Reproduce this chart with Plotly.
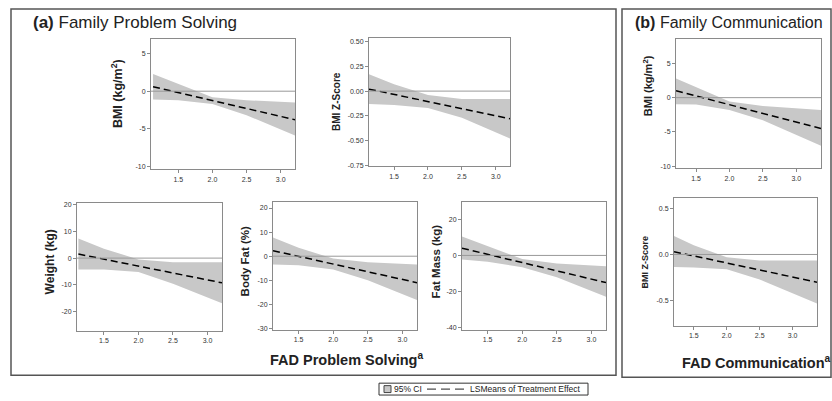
import plotly.graph_objects as go

# ---------------- data ----------------
x_ps = [1.13, 1.5, 2.0, 2.5, 3.21]      # FAD Problem Solving
x_fc = [1.2, 1.5, 2.0, 2.5, 3.37]       # FAD Communication

bmi_a_mean = [0.6, -0.18, -1.24, -2.30, -3.8]
bmi_a_up = [2.3, 1.0, -0.8, -1.2, -1.5]
bmi_a_lo = [-1.1, -1.2, -1.7, -3.2, -5.9]

z_a_mean = [0.02, -0.033, -0.105, -0.177, -0.28]
z_a_up = [0.17, 0.07, -0.04, -0.08, -0.08]
z_a_lo = [-0.13, -0.14, -0.17, -0.27, -0.48]

bmi_b_mean = [1.0, 0.24, -1.03, -2.29, -4.5]
bmi_b_up = [2.8, 1.5, -0.55, -1.2, -1.8]
bmi_b_lo = [-0.95, -1.0, -1.8, -3.3, -7.0]

wt_mean = [1.5, -0.4, -2.97, -5.54, -9.2]
wt_up = [7.3, 3.5, -0.5, -1.5, -1.5]
wt_lo = [-4.2, -4.2, -5.2, -9.5, -16.8]

bf_mean = [2.3, -0.06, -3.26, -6.45, -11.0]
bf_up = [7.8, 3.5, -1.0, -2.5, -3.4]
bf_lo = [-3.4, -3.8, -5.5, -10.0, -18.2]

fm_mean = [4.0, 0.62, -3.94, -8.5, -15.0]
fm_up = [10.5, 5.0, -2.0, -4.5, -6.0]
fm_lo = [-2.3, -3.5, -6.5, -12.0, -22.8]

z_b_mean = [0.03, -0.016, -0.092, -0.168, -0.30]
z_b_up = [0.2, 0.1, -0.03, -0.065, -0.065]
z_b_lo = [-0.135, -0.14, -0.16, -0.27, -0.53]

x_tickvals = [1.5, 2.0, 2.5, 3.0]
x_ticktext = ["1.5", "2.0", "2.5", "3.0"]

bmi_tickvals = [5, 0, -5, -10]
bmi_ticktext = ["5", "0", "-5", "-10"]
z_a_tickvals = [0.5, 0.25, 0.0, -0.25, -0.5, -0.75]
z_a_ticktext = ["0.50", "0.25", "0.00", "-0.25", "-0.50", "-0.75"]
wt_tickvals = [20, 10, 0, -10, -20]
wt_ticktext = ["20", "10", "0", "-10", "-20"]
bf_tickvals = [20, 10, 0, -10, -20, -30]
bf_ticktext = ["20", "10", "0", "-10", "-20", "-30"]
fm_tickvals = [20, 0, -20, -40]
fm_ticktext = ["20", "0", "-20", "-40"]
z_b_tickvals = [0.5, 0.0, -0.5]
z_b_ticktext = ["0.5", "0.0", "-0.5"]

legend_labels = ["95% CI", "LSMeans of Treatment Effect"]

# ---------------- layout geometry (pixels) ----------------
W, H = 832, 401
FONT = "Liberation Sans, Arial, sans-serif"

panels = [
    dict(x=x_ps, m=bmi_a_mean, u=bmi_a_up, l=bmi_a_lo, tv=bmi_tickvals, tt=bmi_ticktext,
         xr=[1.1, 3.21], yr=[-10.4, 7.0], box=(151, 295, 37, 169),
         title="BMI (kg/m<sup>2</sup>)", tpos=(117, 93), tsize=12.5),
    dict(x=x_ps, m=z_a_mean, u=z_a_up, l=z_a_lo, tv=z_a_tickvals, tt=z_a_ticktext,
         xr=[1.13, 3.21], yr=[-0.76, 0.54], box=(369, 510, 36, 166),
         title="BMI Z-Score", tpos=(337, 101), tsize=10),
    dict(x=x_fc, m=bmi_b_mean, u=bmi_b_up, l=bmi_b_lo, tv=bmi_tickvals, tt=bmi_ticktext,
         xr=[1.2, 3.37], yr=[-10.3, 8.6], box=(676, 821, 37, 168),
         title="BMI (kg/m<sup>2</sup>)", tpos=(648, 85), tsize=11),
    dict(x=x_ps, m=wt_mean, u=wt_up, l=wt_lo, tv=wt_tickvals, tt=wt_ticktext,
         xr=[1.11, 3.21], yr=[-27.0, 20.5], box=(77, 222, 203, 332),
         title="Weight (kg)", tpos=(50, 263), tsize=12),
    dict(x=x_ps, m=bf_mean, u=bf_up, l=bf_lo, tv=bf_tickvals, tt=bf_ticktext,
         xr=[1.13, 3.21], yr=[-30.5, 22.5], box=(273, 417, 202, 331),
         title="Body Fat (%)", tpos=(245, 262), tsize=11.5),
    dict(x=x_ps, m=fm_mean, u=fm_up, l=fm_lo, tv=fm_tickvals, tt=fm_ticktext,
         xr=[1.13, 3.21], yr=[-41.0, 29.5], box=(462, 606, 202, 331),
         title="Fat Mass (kg)", tpos=(436, 262), tsize=11.5),
    dict(x=x_fc, m=z_b_mean, u=z_b_up, l=z_b_lo, tv=z_b_tickvals, tt=z_b_ticktext,
         xr=[1.2, 3.37], yr=[-0.77, 0.61], box=(674, 817, 198, 327),
         title="BMI Z-Score", tpos=(645, 263), tsize=9),
]

fig = go.Figure()
layout = dict(
    width=W, height=H, margin=dict(l=0, r=0, t=0, b=0),
    paper_bgcolor="white", plot_bgcolor="white",
    font=dict(family=FONT, color="#222"),
    showlegend=False,
)
annotations = []
shapes = []
BAND = "#c8c8c8"
FRAME = "#8a8a8a"

def px(x):
    return x / W

def py(y):
    return 1 - y / H

for i, p in enumerate(panels, start=1):
    xa = "x" if i == 1 else f"x{i}"
    ya = "y" if i == 1 else f"y{i}"
    x0, x1, y0, y1 = p["box"]
    fig.add_trace(go.Scatter(
        x=p["x"] + p["x"][::-1], y=p["u"] + p["l"][::-1],
        fill="toself", fillcolor=BAND, line=dict(width=0, color=BAND),
        mode="lines", hoverinfo="skip", name=legend_labels[0],
        xaxis=xa, yaxis=ya,
    ))
    fig.add_trace(go.Scatter(
        x=p["x"], y=p["m"], mode="lines",
        line=dict(color="black", width=1.5, dash="7px,4px"),
        name=legend_labels[1], xaxis=xa, yaxis=ya,
    ))
    axcommon = dict(showline=True, mirror=True, linecolor=FRAME, linewidth=1,
                    ticks="outside", ticklen=3, tickcolor=FRAME, showgrid=False,
                    tickfont=dict(size=7, color="#333", family=FONT))
    layout["xaxis" if i == 1 else f"xaxis{i}"] = dict(
        domain=[px(x0), px(x1)], range=p["xr"], anchor=ya,
        tickvals=x_tickvals, ticktext=x_ticktext, zeroline=False, **axcommon)
    layout["yaxis" if i == 1 else f"yaxis{i}"] = dict(
        domain=[py(y1), py(y0)], range=p["yr"], anchor=xa,
        tickvals=p["tv"], ticktext=p["tt"], zeroline=False, **axcommon)
    shapes.append(dict(type="line", xref=f"{xa} domain", yref=ya, x0=0, x1=1, y0=0, y1=0,
                       line=dict(color="#999", width=1), layer="above"))
    tx, ty = p["tpos"]
    annotations.append(dict(
        text=f"<b>{p['title']}</b>", x=px(tx), y=py(ty), xref="paper", yref="paper",
        textangle=-90, showarrow=False, xanchor="center", yanchor="middle",
        font=dict(size=p["tsize"], family=FONT, color="#222")))

annotations += [
    dict(text="<b>(a)</b> Family Problem Solving", x=px(31), y=py(21),
         xref="paper", yref="paper", showarrow=False, xanchor="left", yanchor="middle",
         font=dict(size=17, family=FONT, color="#222")),
    dict(text="<b>(b)</b> Family Communication", x=px(633), y=py(21),
         xref="paper", yref="paper", showarrow=False, xanchor="left", yanchor="middle",
         font=dict(size=16, family=FONT, color="#222")),
    dict(text="<b>FAD Problem Solving<sup>a</sup></b>", x=px(346), y=py(361),
         xref="paper", yref="paper", showarrow=False, xanchor="center", yanchor="middle",
         font=dict(size=14.5, family=FONT, color="#222")),
    dict(text="<b>FAD Communication<sup>a</sup></b>", x=px(756), y=py(364),
         xref="paper", yref="paper", showarrow=False, xanchor="center", yanchor="middle",
         font=dict(size=14.5, family=FONT, color="#222")),
    dict(text=legend_labels[0], x=px(392), y=py(391), xref="paper", yref="paper",
         showarrow=False, xanchor="left", yanchor="middle",
         font=dict(size=8.5, family=FONT, color="#222")),
    dict(text=legend_labels[1], x=px(468), y=py(391), xref="paper", yref="paper",
         showarrow=False, xanchor="left", yanchor="middle",
         font=dict(size=8.5, family=FONT, color="#222")),
]

shapes += [
    dict(type="rect", xref="paper", yref="paper", x0=px(11), x1=px(616),
         y0=py(377), y1=py(7), line=dict(color="#555", width=1.5)),
    dict(type="rect", xref="paper", yref="paper", x0=px(622), x1=px(831),
         y0=py(379), y1=py(7), line=dict(color="#555", width=1.5)),
    dict(type="rect", xref="paper", yref="paper", x0=px(379), x1=px(588),
         y0=py(397), y1=py(385), line=dict(color="#333", width=1), fillcolor="white",
         layer="below"),
    dict(type="rect", xref="paper", yref="paper", x0=px(384), x1=px(391),
         y0=py(394.5), y1=py(387.5), line=dict(color="#444", width=1), fillcolor=BAND),
    dict(type="line", xref="paper", yref="paper", x0=px(427), x1=px(465),
         y0=py(391), y1=py(391), line=dict(color="#222", width=1, dash="9px,5px")),
]
layout["annotations"] = annotations
layout["shapes"] = shapes
fig.update_layout(**layout)
fig.write_html("out.html", config={"displayModeBar": False},
               post_script="document.body.style.margin='0px';")
